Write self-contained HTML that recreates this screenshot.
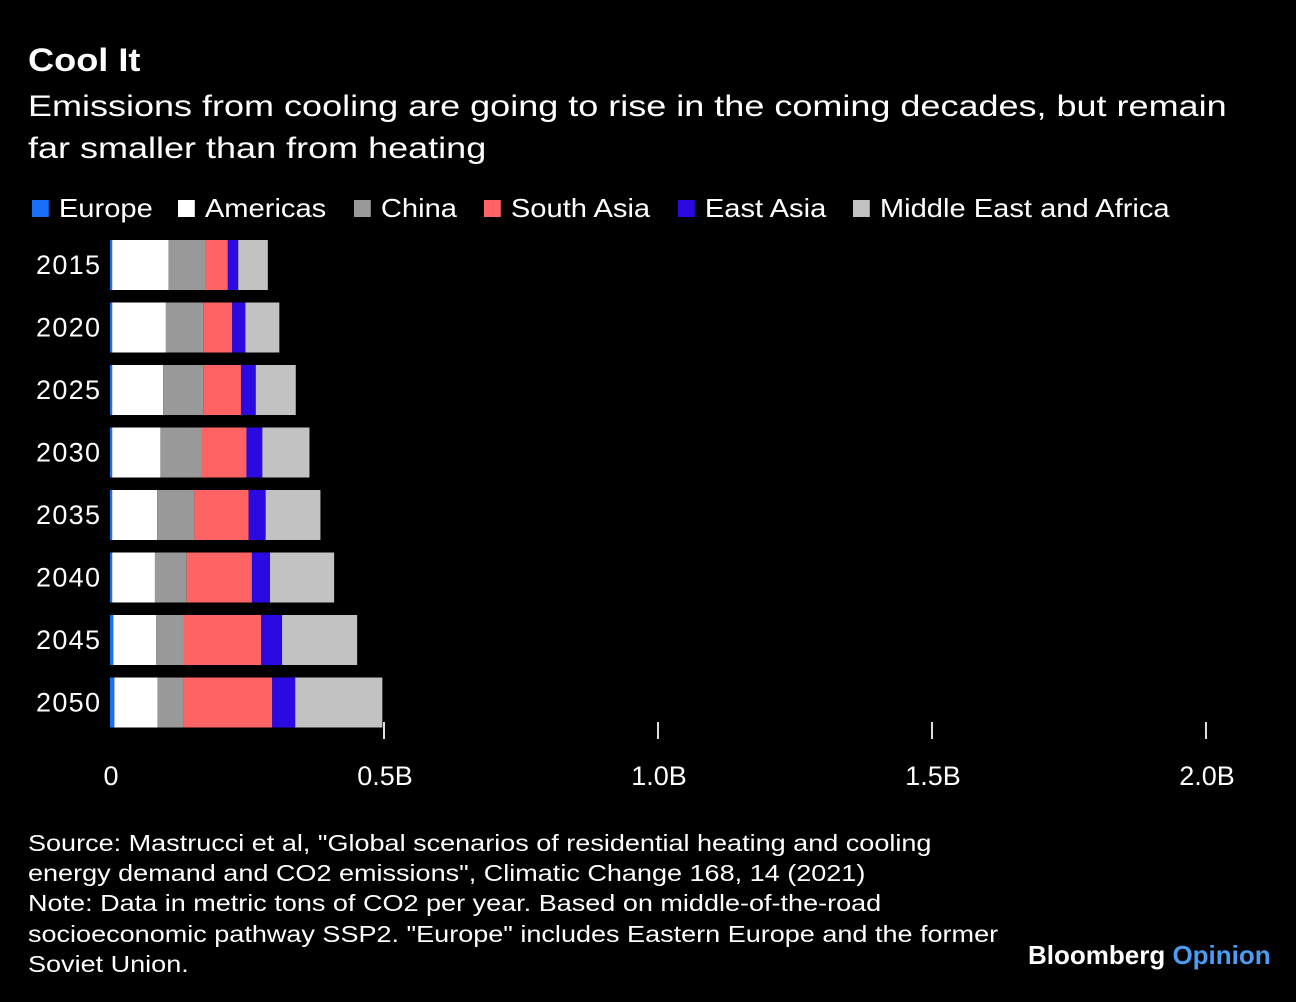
<!DOCTYPE html>
<html><head><meta charset="utf-8"><style>
body{margin:0;background:#000;width:1296px;height:1002px;overflow:hidden;font-family:"Liberation Sans",sans-serif;color:#fff;position:relative}
.t{position:absolute;white-space:nowrap;transform-origin:0 0}
#title{left:28px;top:42px;font-size:32px;font-weight:bold;transform:scaleX(1.13)}
#sub{left:28px;top:86px;font-size:30px;line-height:42px;transform:scaleX(1.2)}
.leg{position:absolute;top:193px;font-size:26px;display:flex;align-items:center;transform:scaleX(1.12);transform-origin:0 0}
.sw{width:15px;height:17px;margin-right:9px;display:inline-block}
#foot{left:28px;top:828px;font-size:23.5px;line-height:30.2px;transform:scaleX(1.15)}
#brand{left:1028px;top:940px;font-size:26px;font-weight:bold}
</style></head><body>
<div class="t" id="title">Cool It</div>
<div class="t" id="sub">Emissions from cooling are going to rise in the coming decades, but remain<br>far smaller than from heating</div>
<div id="legend"></div>
<svg id="chart" width="1296" height="1002" style="position:absolute;left:0;top:0"></svg>
<div class="t" id="foot">Source: Mastrucci et al, "Global scenarios of residential heating and cooling<br>energy demand and CO2 emissions", Climatic Change 168, 14 (2021)<br>Note: Data in metric tons of CO2 per year. Based on middle-of-the-road<br>socioeconomic pathway SSP2. "Europe" includes Eastern Europe and the former<br>Soviet Union.</div>
<div class="t" id="brand">Bloomberg <span style="color:#4a9cf5">Opinion</span></div>
<script>
const years=["2015","2020","2025","2030","2035","2040","2045","2050"];
const seriesNames=["Europe","Americas","China","South Asia","East Asia","Middle East and Africa"];
// values in million tonnes
const europe=[4,4,4,4,4,4,6,8];
const americas=[103,98,93,88,82,78,78,79];
const china=[68,68,73,75,68,58,51,47];
const southAsia=[40,53,69,82,99,119,141,162];
const eastAsia=[19,24,27,29,31,33,38,42];
const mea=[54,62,73,86,100,117,137,159];
const tickVals=[0,500,1000,1500,2000];
const tickLabels=["0","0.5B","1.0B","1.5B","2.0B"];
const colors=["#1a6ef5","#ffffff","#999999","#ff6363","#2a0ae0","#c2c2c2"];
const legendX=[32,178,354,484,678,853];
const series=[europe,americas,china,southAsia,eastAsia,mea];
const NS="http://www.w3.org/2000/svg";
const svg=document.getElementById('chart');
const xs=v=>110+v*0.548;
const ys=i=>240+i*62.5;
const lg=document.getElementById('legend');
seriesNames.forEach((n,i)=>{
 const d=document.createElement('div');d.className='leg';d.style.left=legendX[i]+'px';
 
 
 d.innerHTML='<span class="sw" style="background:'+colors[i]+'"></span>'+n;lg.appendChild(d);
});
years.forEach((y,i)=>{
 let acc=0;
 series.forEach((s,k)=>{
  const r=document.createElementNS(NS,'rect');
  r.setAttribute('x',xs(acc));r.setAttribute('y',ys(i));
  r.setAttribute('width',xs(acc+s[i])-xs(acc));r.setAttribute('height',50);
  r.setAttribute('fill',colors[k]);
  
  
  svg.appendChild(r);acc+=s[i];
 });
 const t=document.createElementNS(NS,'text');
 t.setAttribute('x',100);t.setAttribute('y',ys(i)+34);t.setAttribute('text-anchor','end');
 t.setAttribute('fill','#fff');t.setAttribute('font-size','27');t.setAttribute('textLength','64');t.textContent=y;
 
 
 svg.appendChild(t);
});
tickVals.forEach((v,i)=>{
 if(i>0){const l=document.createElementNS(NS,'line');
 l.setAttribute('x1',xs(v));l.setAttribute('x2',xs(v));l.setAttribute('y1',722);l.setAttribute('y2',739);
 l.setAttribute('stroke','#ddd');l.setAttribute('stroke-width',2);
 
 
 svg.appendChild(l);}
 const t=document.createElementNS(NS,'text');
 t.setAttribute('x',xs(v)+1);t.setAttribute('y',785);t.setAttribute('text-anchor','middle');
 t.setAttribute('fill','#fff');t.setAttribute('font-size','27');t.textContent=tickLabels[i];
 
 
 svg.appendChild(t);
});
</script>
</body></html>
